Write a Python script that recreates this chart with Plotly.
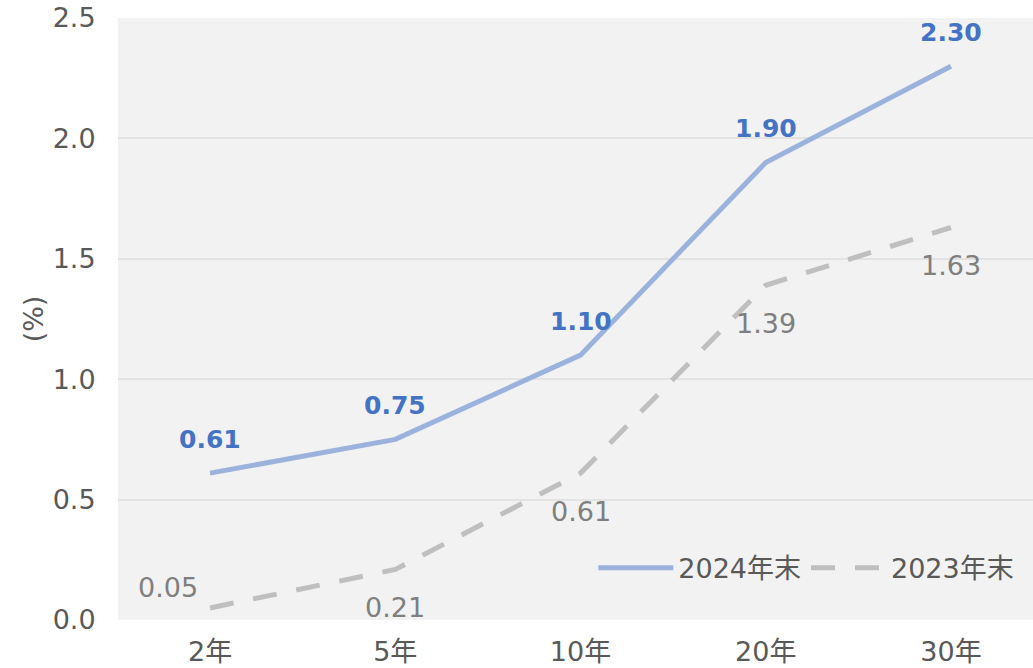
import plotly.graph_objects as go

categories = ["2年", "5年", "10年", "20年", "30年"]
y2024 = [0.61, 0.75, 1.10, 1.90, 2.30]
y2023 = [0.05, 0.21, 0.61, 1.39, 1.63]
labels2024 = ["0.61", "0.75", "1.10", "1.90", "2.30"]
labels2023 = ["0.05", "0.21", "0.61", "1.39", "1.63"]
yshift2023 = [20, -38, -38, -38, -38]
xshift2023 = [-42, 0, 0, 0, 0]

FONT = "DejaVu Sans, Noto Sans CJK JP"

fig = go.Figure()
fig.add_trace(go.Scatter(
    x=categories, y=y2024, mode="lines", name="2024年末",
    line=dict(color="#9bb3dc", width=5),
))
fig.add_trace(go.Scatter(
    x=categories, y=y2023, mode="lines", name="2023年末",
    line=dict(color="#bfbfbf", width=5, dash="24px,20px"),
))

annotations = []
for c, v, t in zip(categories, y2024, labels2024):
    annotations.append(dict(x=c, y=v, text=t, showarrow=False, yshift=34,
                            font=dict(family=FONT, size=25, color="#4472c4", weight="bold")))
for c, v, t, ys, xs in zip(categories, y2023, labels2023, yshift2023, xshift2023):
    annotations.append(dict(x=c, y=v, text=t, showarrow=False, yshift=ys, xshift=xs,
                            font=dict(family=FONT, size=27, color="#7f7f7f")))

fig.update_layout(
    width=1033, height=668,
    margin=dict(l=118, r=0, t=18, b=48),
    paper_bgcolor="white", plot_bgcolor="#f2f2f2",
    font=dict(family=FONT, size=27, color="#595959"),
    showlegend=True,
    annotations=annotations,
    legend=dict(orientation="h", x=0.985, xanchor="right", y=0.086, yanchor="middle",
                bgcolor="rgba(0,0,0,0)", font=dict(size=27, color="#595959"),
                itemwidth=75),
    xaxis=dict(range=[-0.497, 4.443], showgrid=False, zeroline=False, showline=False,
               automargin=False,
               ticks="outside", ticklen=8, tickcolor="rgba(0,0,0,0)",
               tickfont=dict(size=27, color="#595959")),
    yaxis=dict(range=[0, 2.5], tickvals=[0, 0.5, 1.0, 1.5, 2.0, 2.5], tickformat=".1f",
               showgrid=True, gridcolor="#e3e3e3", gridwidth=2,
               zeroline=False, showline=False, automargin=False,
               ticks="outside", ticklen=16, tickcolor="rgba(0,0,0,0)",
               tickfont=dict(size=27, color="#595959"),
               title=dict(text="(%)", font=dict(size=27, color="#595959"), standoff=1)),
)

fig.write_html("out.html")
